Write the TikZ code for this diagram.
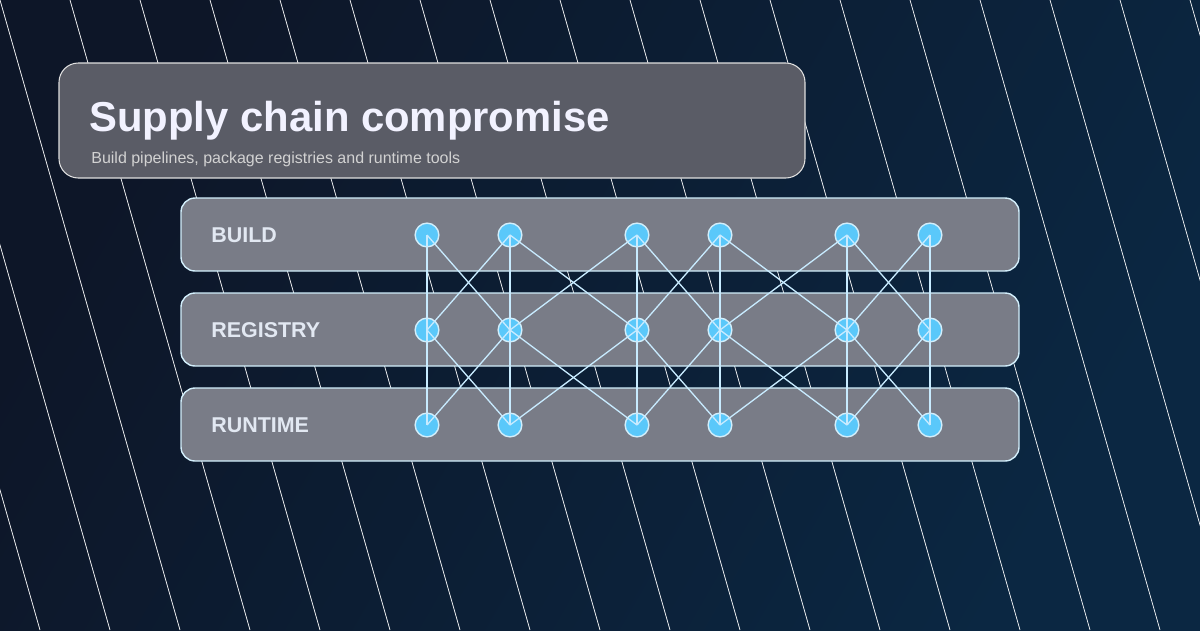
\documentclass[tikz,border=0pt]{standalone}
\usepackage{fontspec}
\setmainfont{Liberation Sans}
\definecolor{bgA}{HTML}{0D1628}
\definecolor{bgB}{HTML}{0B2742}
\definecolor{titlefill}{HTML}{5A5C66}
\definecolor{bandfill}{HTML}{797C87}
\definecolor{bandedge}{HTML}{D2EEFB}
\definecolor{nodefill}{HTML}{5AC8FA}
\definecolor{edgecol}{HTML}{C8EBFF}
\definecolor{lbltext}{HTML}{E2E8F2}
\begin{document}
\begin{tikzpicture}[x=0.02cm, y=-0.02cm,
  band/.style={draw=bandedge, line width=0.8pt, fill=bandfill, rounded corners=8pt},
  lbl/.style={anchor=west, text=lbltext, font=\fontsize{12.2pt}{14pt}\selectfont\bfseries},
  dot/.style={circle, draw=bandedge, line width=0.8pt, fill=nodefill, minimum size=13.5pt, inner sep=0pt},
  link/.style={draw=edgecol, line width=0.75pt}]
% Background
\shade[left color=bgA, right color=bgB, shading angle=60] (0,0) rectangle (1200,630);
\useasboundingbox (0,0) rectangle (1200,630);
\begin{scope}
\clip (0,0) rectangle (1200,630);
\foreach \i in {-3,...,18}
  \draw[white, line width=0.4pt] (\i*70,0) -- (\i*70+180,630);
\end{scope}

% Title
\draw[draw=white!75!gray, line width=0.6pt, fill=titlefill, rounded corners=11pt] (59,63) rectangle (805,178);
\node[anchor=base west, inner sep=0pt, text=white!95!blue, font=\fontsize{23.8pt}{26pt}\selectfont\bfseries] (title) at (89,131) {Supply chain compromise};
\node[anchor=base west, inner sep=0pt, text=white!65!gray, font=\fontsize{9.1pt}{11pt}\selectfont] (sub) at (91,163) {Build pipelines, package registries and runtime tools};

% Layers
\draw[band] (181,198) rectangle (1019,271);
\draw[band] (181,293) rectangle (1019,366);
\draw[band] (181,388) rectangle (1019,461);
\node[lbl, inner sep=0pt] (lbuild) at (211,235) {BUILD};
\node[lbl, inner sep=0pt] (lreg) at (211,330) {REGISTRY};
\node[lbl, inner sep=0pt] (lrun) at (211,425) {RUNTIME};

% Nodes
\foreach \x [count=\n from 0] in {427,510,637,720,847,930} {
  \node[dot] (b\n) at (\x,235) {};
  \node[dot] (r\n) at (\x,330) {};
  \node[dot] (t\n) at (\x,425) {};
}

% Links
\foreach \n in {0,...,5} {
  \draw[link] (b\n.center) -- (r\n.center);
  \draw[link] (r\n.center) -- (t\n.center);
}
\foreach \n [evaluate=\n as \m using int(\n+1)] in {0,...,4} {
  \draw[link] (b\n.center) -- (r\m.center);
  \draw[link] (b\m.center) -- (r\n.center);
  \draw[link] (r\n.center) -- (t\m.center);
  \draw[link] (r\m.center) -- (t\n.center);
}
\end{tikzpicture}
\end{document}
